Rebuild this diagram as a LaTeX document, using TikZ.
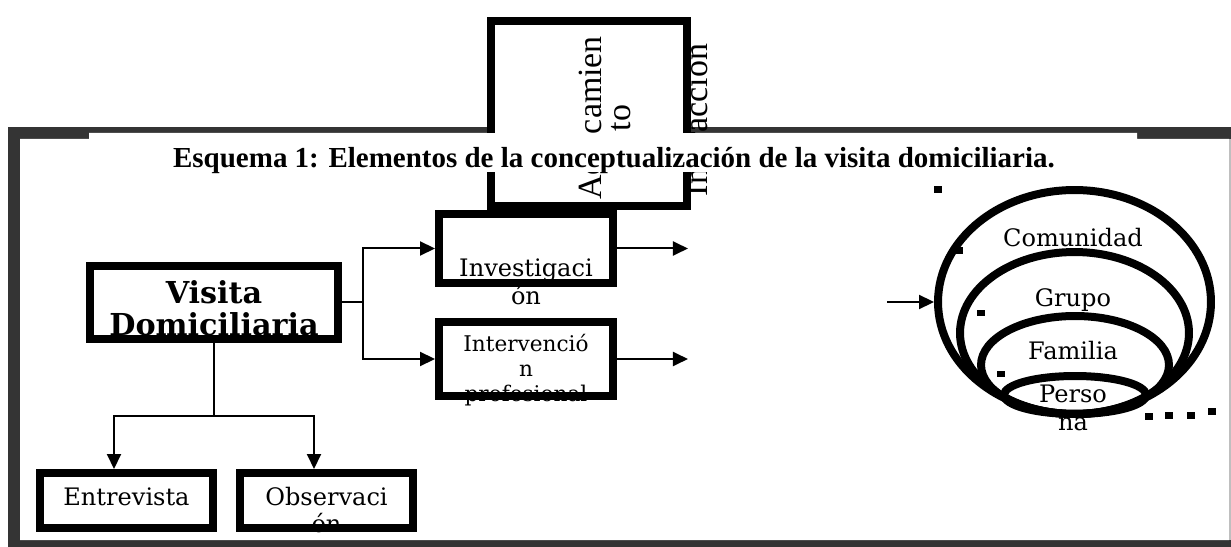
\documentclass[tikz,border=0pt]{standalone}
\usepackage{fontspec}
\setmainfont{DejaVu Serif}
\newfontfamily\titlefont{Liberation Serif}
\usetikzlibrary{
  arrows.meta,
  shapes.geometric
}
\definecolor{framegray}{RGB}{52,52,52}
\tikzset{
%
  % For the thick borders.
  line/.style={
    line width=0.16cm},
%
  % For the connectors.
  thin line/.style={
    line width=0.04cm},
%
  % For the relation 'A leads to B'.
  conn/.style={
    thin line,
    -{Triangle[length=0.3cm,
               width=0.28cm]}},
%
  % For boxes in general.
  box/.style={
    line,
    draw,
    inner sep=0pt},
%
  % For the nested circles.
  ring/.style={
    line,
    draw,
    ellipse,
    inner sep=0pt},
%
  % For texts in the boxes.
  txt/.style={
    inner sep=0pt,
    align=center,
    font=\fontsize{13.7pt}{15.9pt}\selectfont},
  small txt/.style={
    txt,
    font=\fontsize{12.3pt}{14.2pt}\selectfont},
  bold txt/.style={
    txt,
    font=\fontsize{17.2pt}{18.2pt}\selectfont\bfseries},
  side txt/.style={
    txt,
    rotate=90,
    font=\titlefont\fontsize{19.3pt}{16.5pt}\selectfont},
%
  % For the caption.
  title/.style={
    fill=white,
    inner xsep=2pt,
    inner ysep=0pt,
    text height=0.7cm,
    text depth=0.08cm,
    font=\titlefont\fontsize{16.5pt}{19pt}\selectfont\bfseries},
%
  % For the little squares.
  dot/.style={
    fill,
    inner sep=0pt,
    minimum width=0.16cm,
    minimum height=0.14cm}
}

\begin{document}
\begin{tikzpicture}[x=0.02cm, y=-0.02cm]
  \useasboundingbox (0,0) rectangle (1231,547);

  % frame
  \fill[framegray] (8,127) rectangle (1231,547);
  \fill[white] (20,139) -- (89,139) -- (89,133) -- (1137,133)
    -- (1137,139) -- (1229,139) -- (1229,540) -- (20,540) -- cycle;
  \fill[gray!50] (1229,139) rectangle (1231,540);

  \node[box, fill=white, minimum width=3.92cm, minimum height=3.7cm]
    (acer) at (589,113.5) {};
  \node[side txt] (acert) at (605,118) {Acercamien\\to};
  \node[side txt] (intat) at (696,120) {Interacción};

  \node[title, anchor=base] (ttl) at (614,168)
    {Esquema 1: Elementos de la conceptualización de la visita domiciliaria.};

  \node[bold txt] (vdt) at (214,308) {Visita\\Domiciliaria};
  \node[txt] (invt) at (526,282) {Investigaci\\ón};
  \node[small txt] (intt) at (526,370) {Intervenció\\n\\profesional};
  \node[txt, anchor=base] (entt) at (126.5,505) {Entrevista};
  \node[txt] (obst) at (326.5,510) {Observaci\\ón};
  \node[txt, anchor=base] (comt) at (1073,247) {Comunidad};
  \node[txt, anchor=base] (grut) at (1073,307) {Grupo};
  \node[txt, anchor=base] (famt) at (1073,359) {Familia};
  \node[txt] (pert) at (1073,408) {Perso\\na};

  \node[box, minimum width=4.96cm, minimum height=1.46cm] (vd) at (214,302.5) {};
  \node[box, minimum width=3.48cm, minimum height=1.38cm] (inv) at (526,248.5) {};
  \node[box, minimum width=3.48cm, minimum height=1.48cm] (int) at (526,359) {};
  \node[box, minimum width=3.46cm, minimum height=1.1cm] (ent) at (126.5,500.5) {};
  \node[box, minimum width=3.46cm, minimum height=1.1cm] (obs) at (326.5,500.5) {};

  \node[ring, minimum width=5.46cm, minimum height=4.48cm] (comu) at (1074.5,302) {};
  \node[ring, minimum width=4.58cm, minimum height=3.24cm] (gru) at (1074.5,333) {};
  \node[ring, minimum width=3.76cm, minimum height=1.96cm] (fam) at (1075,365) {};
  \node[ring, minimum width=2.84cm, minimum height=0.76cm] (per) at (1075,395) {};

  \draw[conn] (vd.east) -- ++(21,0) |- (inv.west);
  \draw[conn] (vd.east) -- ++(21,0) |- (int.west);
  \draw[conn] (vd.south) -- ++(0,73) -| ([xshift=-0.25cm]ent.north);
  \draw[conn] (vd.south) -- ++(0,73) -| ([xshift=-0.25cm]obs.north);

  \coordinate (invend) at ([xshift=1.42cm]inv.east);
  \coordinate (intend) at ([xshift=1.42cm]int.east);
  \coordinate (comin) at ([xshift=-0.94cm]comu.west);
  \draw[conn] (inv.east) -- (invend);
  \draw[conn] (int.east) -- (intend);
  \draw[conn] (comin) -- (comu.west);

  \foreach \x/\y [count=\i] in {938/190, 959/251, 981/313, 1001/374,
      1149/416, 1169/415, 1191/415, 1212/411}
    \node[dot] (sq\i) at (\x,\y) {};
\end{tikzpicture}
\end{document}
